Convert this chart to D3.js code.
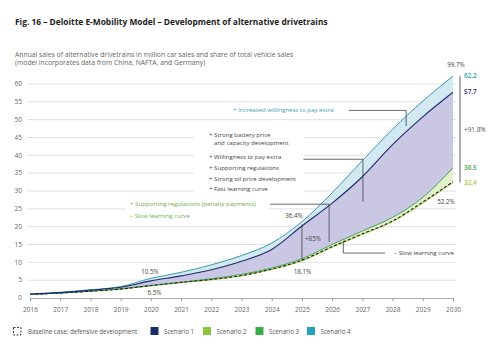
<!DOCTYPE html>
<html><head><meta charset="utf-8">
<script src="https://cdn.jsdelivr.net/npm/d3@7"></script>
<style>body{margin:0;background:#fff}svg{display:block;font-family:"Open Sans",sans-serif}</style>
</head><body>
<svg id="c" width="500" height="358"></svg>
<script>
const years = [2016,2017,2018,2019,2020,2021,2022,2023,2024,2025,2026,2027,2028,2029,2030];
const scenario4 = [1.1,1.6,2.3,3.2,5.5,7.2,9.3,11.9,15.4,21.4,29.5,38.5,47.3,55.2,62.2];
const scenario1 = [1.1,1.5,2.2,3.0,4.8,6.2,7.9,10.3,13.6,20.2,26.6,34.0,43.0,50.8,57.7];
const scenario3 = [1.0,1.4,1.9,2.6,3.5,4.4,5.4,6.6,8.4,11.0,15.0,18.8,22.6,28.2,36.5];
const scenario2 = [1.0,1.4,1.9,2.5,3.4,4.3,5.1,6.2,8.0,10.4,14.2,17.8,21.4,26.6,32.4];
const baseline  = [1.0,1.4,1.9,2.5,3.5,4.4,5.2,6.3,8.1,10.6,14.4,18.0,21.6,26.9,32.6];
const yTicks = [0,5,10,15,20,25,30,35,40,45,50,55,60];
const endLabels = ["62.2","57.7","+91.8%","36.5","32.4"];
const shareLabels = ["10.5%","6.5%","36.4%","18.1%","+85%","99.7%","52.2%"];
const legendLabels = ["Baseline case: defensive development","Scenario 1","Scenario 2","Scenario 3","Scenario 4"];

const svg = d3.select("#c");
const x = d3.scaleLinear().domain([2016,2030]).range([30,453]);
const y = d3.scaleLinear().domain([0,60]).range([298,84]);

// title
svg.append("text").attr("x",15).attr("y",25).attr("font-size","8.4px").attr("font-weight","bold").attr("fill","#222")
  .text("Fig. 16 – Deloitte E-Mobility Model – Development of alternative drivetrains");
svg.append("text").attr("x",15).attr("y",57).attr("font-size","6.8px").attr("fill","#666")
  .text("Annual sales of alternative drivetrains in million car sales and share of total vehicle sales");
svg.append("text").attr("x",15).attr("y",64.5).attr("font-size","6.8px").attr("fill","#666")
  .text("(model incorporates data from China, NAFTA, and Germany)");

// grid
svg.append("g").selectAll("line").data(yTicks.slice(1)).join("line")
  .attr("x1",27).attr("x2",456).attr("y1",d=>y(d)).attr("y2",d=>y(d))
  .attr("stroke","#d8d8d8").attr("stroke-width",0.8);
svg.append("g").selectAll("text").data(yTicks).join("text")
  .attr("x",22).attr("y",d=>y(d)).attr("dy","0.35em").attr("text-anchor","end")
  .attr("font-size","6.5px").attr("fill","#666").text(d=>d);

// x axis
const xa = svg.append("g").attr("transform","translate(0,298)")
  .call(d3.axisBottom(x).tickValues(years).tickFormat(d3.format("d")).tickSize(3).tickPadding(6));
xa.select(".domain").attr("stroke","#999").attr("stroke-width",0.8);
xa.selectAll(".tick line").attr("stroke","#999");
xa.selectAll("text").attr("font-size","6.5px").attr("fill","#666").attr("font-family","Open Sans");

// bands
const idx = years.map((d,i)=>i);
const band = (lo,hi)=>d3.area().x(i=>x(years[i])).y0(i=>y(lo[i])).y1(i=>y(hi[i])).curve(d3.curveMonotoneX);
svg.append("path").attr("d",band(scenario1,scenario4)(idx)).attr("fill","#d2e9f1");
svg.append("path").attr("d",band(scenario3,scenario1)(idx)).attr("fill","#c9c7e4");
svg.append("path").attr("d",band(scenario2,scenario3)(idx)).attr("fill","#e2f0cd");

const line = arr=>d3.line().x(i=>x(years[i])).y(i=>y(arr[i])).curve(d3.curveMonotoneX)(idx);
svg.append("path").attr("d",line(scenario2)).attr("fill","none").attr("stroke","#a6c83e").attr("stroke-width",1);
svg.append("path").attr("d",line(scenario3)).attr("fill","none").attr("stroke","#3fa451").attr("stroke-width",1);
svg.append("path").attr("d",line(baseline)).attr("fill","none").attr("stroke","#222").attr("stroke-width",1.1).attr("stroke-dasharray","3,2");
svg.append("path").attr("d",line(scenario4)).attr("fill","none").attr("stroke","#3a9cab").attr("stroke-width",1);
svg.append("path").attr("d",line(scenario1)).attr("fill","none").attr("stroke","#1f2a6c").attr("stroke-width",1.1);

// annotation boxes (white backgrounds)
svg.append("rect").attr("x",194).attr("y",128).attr("width",110).attr("height",67).attr("fill","#fff");
svg.append("rect").attr("x",126).attr("y",198).attr("width",142).attr("height",23).attr("fill","#fff");

// callout lines
const cl = d3.line().x(d=>x(d[0])).y(d=>y(d[1]));
const callouts = [
  [[2026.55,52.6],[2028.45,52.6],[2028.45,48.2]],
  [[2025.05,38.9],[2027.02,38.9],[2027.02,27.0]],
  [[2023.95,26.3],[2025.9,26.3],[2025.9,15.7]],
  [[2025.0,20.6],[2025.0,10.4]],
  [[2026.37,16.0],[2026.37,12.6],[2027.75,12.6]]
];
svg.append("g").selectAll("path").data(callouts).join("path").attr("d",d=>cl(d))
  .attr("fill","none").attr("stroke","#444").attr("stroke-width",0.8);

// annotation texts
const t = (tx,ty,s,c,anchor)=>svg.append("text").attr("x",tx).attr("y",ty).attr("font-size","6.1px")
  .attr("fill",c).attr("text-anchor",anchor||"start").text(s);
t(233,112,"+ Increased willingness to pay extra","#3aa0b0");
t(209,136.5,"+ Strong battery price","#444");
t(214,145,"and capacity development","#444");
t(209,158.5,"+ Willingness to pay extra","#444");
t(209,169.5,"+ Supporting regulations","#444");
t(209,180.5,"+ Strong oil price development","#444");
t(209,191,"+ Fast learning curve","#444");
t(130,206,"+ Supporting regulations (penalty payments)","#6bb04a");
t(130,218,"– Slow learning curve","#6bb04a");
t(394,255,"– Slow learning curve","#444");

// share labels
const sl = [[150,274],[154.5,294.5],[294,218],[302.5,274],[313,241],[456,67],[446,204]];
svg.append("g").selectAll("text").data(shareLabels).join("text")
  .attr("x",(d,i)=>sl[i][0]).attr("y",(d,i)=>sl[i][1]).attr("text-anchor","middle")
  .attr("font-size","6.3px").attr("fill","#444").text(d=>d);

// right bracket
svg.append("line").attr("x1",460).attr("x2",460).attr("y1",y(62.2)).attr("y2",y(32.4)).attr("stroke","#777").attr("stroke-width",1.2);
const endVals = [62.2,57.7,47.2,36.5,32.4];
const endCols = ["#2a9fb0","#1f2a6c","#555","#3fa451","#a6c83e"];
svg.append("g").selectAll("text").data(endLabels).join("text")
  .attr("x",464).attr("y",(d,i)=>y(endVals[i])).attr("dy","0.35em")
  .attr("font-size","6.4px").attr("font-weight",(d,i)=>i===2?"normal":"600")
  .attr("fill",(d,i)=>endCols[i]).text(d=>d);

// legend
const lx = [13,150.5,203,255.5,307];
const lcol = ["#fff","#1d2d6b","#8cc63f","#3aaa49","#23a3b8"];
const lg = svg.append("g");
legendLabels.forEach((s,i)=>{
  const r = lg.append("rect").attr("x",lx[i]).attr("y",327).attr("width",8).attr("height",8).attr("fill",lcol[i]);
  if(i===0) r.attr("stroke","#222").attr("stroke-dasharray","2,1.5").attr("stroke-width",0.9).attr("x",lx[i]+0.5).attr("y",327.5).attr("width",7.5).attr("height",7.5);
  lg.append("text").attr("x",lx[i]+ (i===0?15:13.5)).attr("y",333.5).attr("font-size","6.2px").attr("fill","#555").text(s);
});
</script>
</body></html>
